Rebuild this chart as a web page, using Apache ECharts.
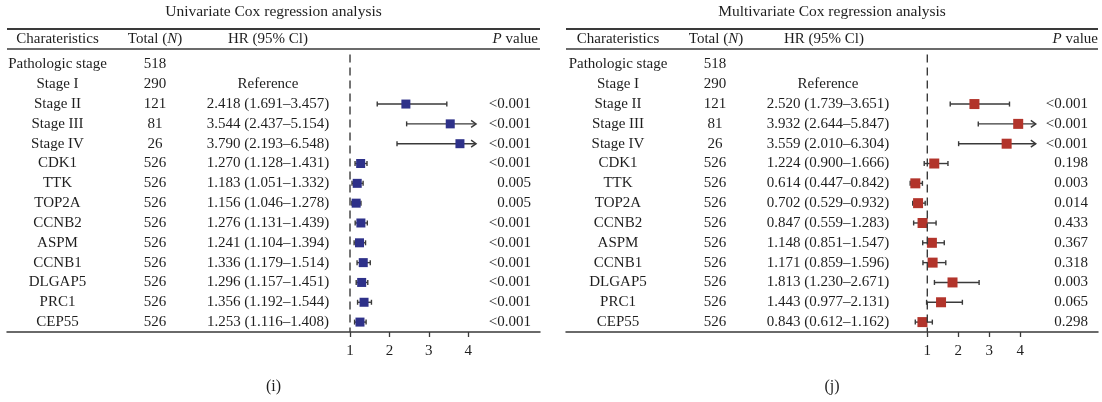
<!DOCTYPE html>
<html>
<head>
<meta charset="utf-8">
<script src="https://cdn.jsdelivr.net/npm/echarts@6/dist/echarts.min.js"></script>
<style>
html,body{margin:0;padding:0;background:#fff;}
#chart{width:1102px;height:402px;}
</style>
</head>
<body>
<div id="chart"></div>
<script>
// ---------------- data ----------------
const characteristics = ['Pathologic stage','Stage I','Stage II','Stage III','Stage IV','CDK1','TTK','TOP2A','CCNB2','ASPM','CCNB1','DLGAP5','PRC1','CEP55'];
const totals = [518,290,121,81,26,526,526,526,526,526,526,526,526,526];
const referenceRow = 1;

const uniHR   = [null,null,2.418,3.544,3.790,1.270,1.183,1.156,1.276,1.241,1.336,1.296,1.356,1.253];
const uniLow  = [null,null,1.691,2.437,2.193,1.128,1.051,1.046,1.131,1.104,1.179,1.157,1.192,1.116];
const uniHigh = [null,null,3.457,5.154,6.548,1.431,1.332,1.278,1.439,1.394,1.514,1.451,1.544,1.408];
const uniP    = ['','','<0.001','<0.001','<0.001','<0.001','0.005','0.005','<0.001','<0.001','<0.001','<0.001','<0.001','<0.001'];

const multiHR   = [null,null,2.520,3.932,3.559,1.224,0.614,0.702,0.847,1.148,1.171,1.813,1.443,0.843];
const multiLow  = [null,null,1.739,2.644,2.010,0.900,0.447,0.529,0.559,0.851,0.859,1.230,0.977,0.612];
const multiHigh = [null,null,3.651,5.847,6.304,1.666,0.842,0.932,1.283,1.547,1.596,2.671,2.131,1.162];
const multiP    = ['','','<0.001','<0.001','<0.001','0.198','0.003','0.014','0.433','0.367','0.318','0.003','0.065','0.298'];

const tickValues = [1,2,3,4];
const titles = ['Univariate Cox regression analysis','Multivariate Cox regression analysis'];
const captions = ['(i)','(j)'];
const headers = ['Charateristics','Total (N)','HR (95% Cl)','P value'];

// ---------------- layout / style ----------------
const FONT = '"Liberation Serif", "DejaVu Serif", serif';
const FS = 15;
const TXT = '#1e1e1e';
const LINE = '#3a3a3a';
const rowCount = characteristics.length;
const gridTop = 54.5, gridHeight = 277.5;

const panels = [
  { left: 7, width: 533, min: -7.706, max: 5.822, clipMax: 4.2, color: '#2e3189', sq: 9,
    hr: uniHR, lo: uniLow, hi: uniHigh, p: uniP,
    col: { ch: 50.5, tot: 148, hr: 261, p: 524, pHead: 531, hCh: 50.5, hTot: 148, hHr: 261 } },
  { left: 566, width: 532, min: -10.655, max: 6.506, clipMax: 4.5, color: '#b2342b', sq: 10,
    hr: multiHR, lo: multiLow, hi: multiHigh, p: multiP,
    col: { ch: 52, tot: 149, hr: 262, p: 522, pHead: 532, hCh: 52, hTot: 150, hHr: 258 } }
];

function fmt(v){ return v.toFixed(3); }
function hrText(pn, i){
  if (i === referenceRow) return 'Reference';
  if (pn.hr[i] == null) return '';
  return fmt(pn.hr[i]) + ' (' + fmt(pn.lo[i]) + '\u2013' + fmt(pn.hi[i]) + ')';
}

function txt(text, x, y, align, size){
  const fs = size || FS;
  return {
    type: 'text', x: x, y: y, silent: true,
    style: { text: text, font: fs + 'px ' + FONT, fill: TXT, align: align, verticalAlign: 'middle',
             textAlign: align, textVerticalAlign: 'middle' }
  };
}
function richTxt(text, x, y, align){
  return { type: 'text', x: x, y: y, silent: true,
    style: { text: text, align: align, verticalAlign: 'middle', textAlign: align, textVerticalAlign: 'middle',
      font: FS + 'px ' + FONT, fill: TXT,
      rich: { a: { fontSize: FS, fontFamily: FONT, fill: TXT, color: TXT },
              b: { fontSize: FS, fontFamily: FONT, fontStyle: 'italic', fill: TXT, color: TXT } } } };
}

function tableRender(pn){
  return function(params, api){
    const i = api.value(1);
    const cs = params.coordSys;
    const y = api.coord([1, i])[1];
    const children = [
      txt(characteristics[i], cs.x + pn.col.ch, y, 'center'),
      txt(String(totals[i]), cs.x + pn.col.tot, y, 'center'),
      txt(hrText(pn, i), cs.x + pn.col.hr, y, 'center'),
      txt(pn.p[i], cs.x + pn.col.p, y, 'right')
    ];
    return { type: 'group', children: children };
  };
}

function forestRender(pn){
  return function(params, api){
    const hr = api.value(0), row = api.value(1), lo = api.value(2), hi = api.value(3);
    const c = api.coord([hr, row]);
    const y = c[1];
    const xLo = api.coord([lo, row])[0];
    const clipped = hi > pn.clipMax;
    const xHi = api.coord([clipped ? pn.clipMax : hi, row])[0];
    const st = { stroke: LINE, lineWidth: 1.4, fill: null };
    const ch = [
      { type: 'line', shape: { x1: xLo, y1: y, x2: xHi, y2: y }, style: st },
      { type: 'line', shape: { x1: xLo, y1: y - 2.5, x2: xLo, y2: y + 2.5 }, style: st }
    ];
    if (clipped) {
      ch.push({ type: 'polyline', shape: { points: [[xHi - 5, y - 3.5], [xHi, y], [xHi - 5, y + 3.5]] }, style: st });
    } else {
      ch.push({ type: 'line', shape: { x1: xHi, y1: y - 2.5, x2: xHi, y2: y + 2.5 }, style: st });
    }
    const s = pn.sq;
    ch.push({ type: 'rect', shape: { x: c[0] - s / 2, y: y - s / 2, width: s, height: s }, style: { fill: pn.color } });
    return { type: 'group', children: ch };
  };
}

const grid = [], xAxis = [], yAxis = [], series = [], graphic = [];
panels.forEach(function(pn, k){
  grid.push({ left: pn.left, top: gridTop, width: pn.width, height: gridHeight, containLabel: false, outerBoundsMode: 'none' });
  xAxis.push({
    type: 'value', gridIndex: k, min: pn.min, max: pn.max, position: 'bottom',
    splitLine: { show: false },
    axisLine: { show: true, onZero: false, lineStyle: { color: LINE, width: 1.5 } },
    axisTick: { show: true, customValues: tickValues, length: 5, lineStyle: { color: LINE, width: 1.3 } },
    axisLabel: { show: true, customValues: tickValues, fontFamily: FONT, fontSize: FS, color: TXT, margin: 12 }
  });
  yAxis.push({ type: 'value', gridIndex: k, inverse: true, min: -0.5, max: rowCount - 0.5, show: false, splitLine: { show: false } });

  series.push({
    type: 'line', xAxisIndex: k, yAxisIndex: k, data: [[1, -0.5], [1, rowCount - 0.5]],
    symbol: 'none', silent: true,
    lineStyle: { color: LINE, width: 1.4, type: [8, 5] }
  });
  const fd = [];
  pn.hr.forEach(function(v, i){ if (v != null) fd.push([v, i, pn.lo[i], pn.hi[i]]); });
  series.push({ type: 'custom', xAxisIndex: k, yAxisIndex: k, data: fd, renderItem: forestRender(pn), clip: false, silent: true });
  series.push({ type: 'custom', xAxisIndex: k, yAxisIndex: k, data: characteristics.map(function(c, i){ return [1, i]; }),
    renderItem: tableRender(pn), clip: false, silent: true });

  const L = pn.left, R = pn.left + pn.width;
  graphic.push(txt(titles[k], (L + R) / 2, 12, 'center', 15.5));
  graphic.push({ type: 'line', silent: true, shape: { x1: L, y1: 29, x2: R, y2: 29 }, style: { stroke: LINE, lineWidth: 1.8 } });
  graphic.push({ type: 'line', silent: true, shape: { x1: L, y1: 49, x2: R, y2: 49 }, style: { stroke: LINE, lineWidth: 1.5 } });
  graphic.push(txt(headers[0], L + pn.col.hCh, 39.5, 'center'));
  graphic.push(richTxt('{a|Total (}{b|N}{a|)}', L + pn.col.hTot, 39.5, 'center'));
  graphic.push(txt(headers[2], L + pn.col.hHr, 39.5, 'center'));
  graphic.push(richTxt('{b|P}{a| value}', L + pn.col.pHead, 39.5, 'right'));
  graphic.push(txt(captions[k], (L + R) / 2, 387, 'center', 16));
});

const chart = echarts.init(document.getElementById('chart'), null, { renderer: 'canvas' });
chart.setOption({
  animation: false,
  backgroundColor: '#fff',
  grid: grid, xAxis: xAxis, yAxis: yAxis, series: series, graphic: graphic
});
</script>
</body>
</html>
